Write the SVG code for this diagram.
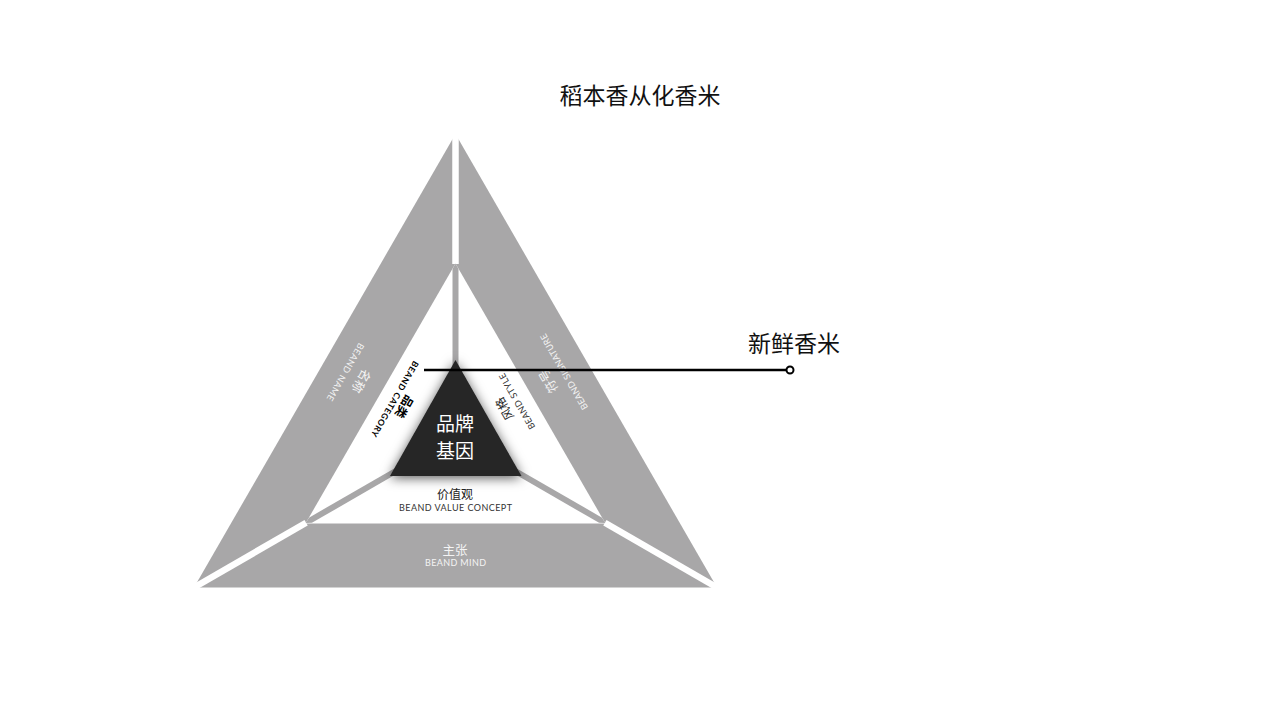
<svg xmlns="http://www.w3.org/2000/svg" width="1280" height="720" viewBox="0 0 1280 720">
<defs>
<style>
.band{fill:#a8a7a8}
.gap{stroke:#ffffff;stroke-width:6.5;fill:none}
.bar{fill:#a8a7a8}
.cn{font-family:"Noto Sans CJK SC","Noto Sans",sans-serif;text-anchor:middle}
.en{font-family:Lato,"Open Sans","Liberation Sans",sans-serif;text-anchor:middle}
.w{fill:#f4f4f4}
.d{fill:#333333}
.title{font-size:23px;fill:#111111}
</style>
<filter id="sh" x="-30%" y="-30%" width="160%" height="160%">
<feDropShadow dx="0" dy="2" stdDeviation="6" flood-color="#000" flood-opacity="0.65"/>
</filter>
<g id="gapbar">
<line class="gap" x1="455.5" y1="118" x2="455.5" y2="264"/>
<polygon class="bar" points="452.5,269 455.5,263.5 458.5,269 458.5,368 452.5,368"/>
</g>
</defs>
<rect width="1280" height="720" fill="#ffffff"/>

<g id="frame">
<polygon class="band" points="455.5,134 194,587.5 717,587.5"/>
<polygon fill="#ffffff" points="455.5,263.5 305.5,523.5 605.5,523.5"/>
<use href="#gapbar"/>
<use href="#gapbar" transform="rotate(120 455.5 436.5)"/>
<use href="#gapbar" transform="rotate(-120 455.5 436.5)"/>
</g>

<g id="core">
<polygon fill="#262626" filter="url(#sh)" points="455.5,360 390,476 521.5,476"/>
<text class="cn" x="455" y="431" font-size="19" fill="#ffffff">品牌</text>
<text class="cn" x="455" y="458" font-size="19" fill="#ffffff">基因</text>
</g>

<g id="name" transform="translate(345.5 372) rotate(120)">
<text class="cn w" x="0" y="-13.5" font-size="12.5">名称</text>
<text class="en w" x="0" y="3.3" font-size="9" textLength="65" lengthAdjust="spacing">BEAND NAME</text>
</g>

<g id="signature" transform="translate(564 372) rotate(240)">
<text class="cn w" x="0" y="-13.5" font-size="12.5">符号</text>
<text class="en w" x="0" y="3.3" font-size="9" textLength="86" lengthAdjust="spacing">BEAND SIGNATURE</text>
</g>

<g id="mind">
<text class="cn w" x="455" y="554.5" font-size="12.5">主张</text>
<text class="en w" x="455.5" y="566.3" font-size="9" textLength="61" lengthAdjust="spacing">BEAND MIND</text>
</g>

<g id="category" transform="translate(395 399) rotate(120)">
<text class="cn" x="2" y="-7.5" font-size="12" font-weight="700" fill="#000">品类</text>
<text class="en" x="0" y="3.2" font-size="8.5" font-weight="700" fill="#000" textLength="86" lengthAdjust="spacing">BEAND CATEGORY</text>
</g>

<g id="style" transform="translate(517 401.5) rotate(240)">
<text class="cn" x="0" y="-10" font-size="12" fill="#222">风格</text>
<text class="en d" x="0" y="3.3" font-size="9" textLength="63" lengthAdjust="spacing">BEAND STYLE</text>
</g>

<g id="value">
<text class="cn" x="455" y="498.5" font-size="12" fill="#222">价值观</text>
<text class="en d" x="455.5" y="511.3" font-size="9" textLength="113" lengthAdjust="spacing">BEAND VALUE CONCEPT</text>
</g>

<g id="title">
<text class="cn title" x="640" y="104">稻本香从化香米</text>
</g>

<g id="label">
<text class="cn title" x="794" y="351.5">新鲜香米</text>
</g>

<g id="connectors">
<line x1="424" y1="370" x2="786.5" y2="370" stroke="#000" stroke-width="2.5"/>
<circle cx="790" cy="370" r="3.5" fill="#ffffff" stroke="#000" stroke-width="2"/>
</g>
</svg>
